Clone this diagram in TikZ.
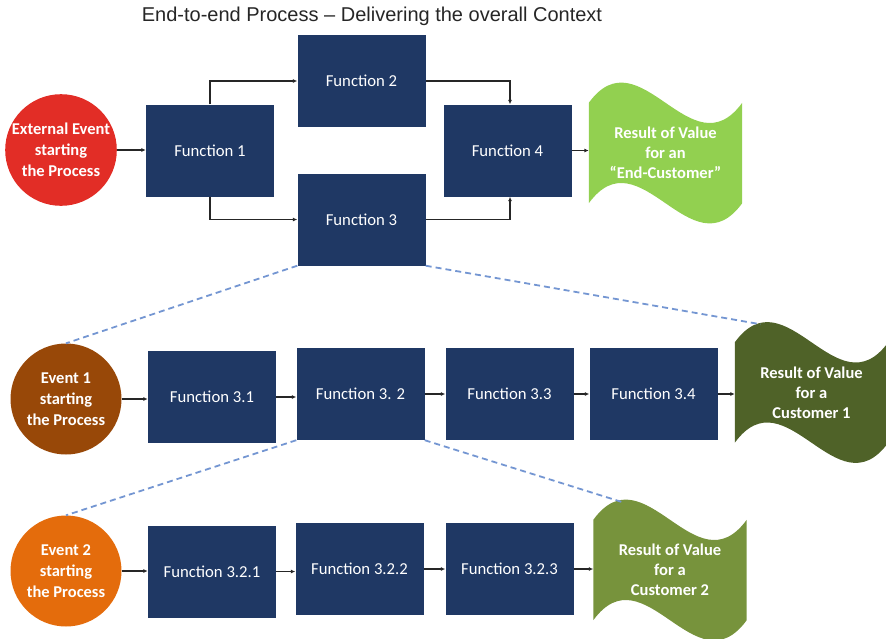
\documentclass[tikz,border=0pt]{standalone}
\usepackage{fontspec}
\setmainfont{Carlito}
\newfontfamily\titlefont{Liberation Sans}
\usetikzlibrary{arrows.meta,calc,backgrounds}

\definecolor{boxnavy}{RGB}{31,56,100}
\definecolor{evred}{RGB}{226,45,38}
\definecolor{evbrown}{RGB}{152,72,8}
\definecolor{evorange}{RGB}{228,108,12}
\definecolor{reslight}{RGB}{146,208,80}
\definecolor{resdark}{RGB}{79,98,40}
\definecolor{resmid}{RGB}{119,147,60}
\definecolor{zoomblue}{RGB}{116,150,210}

\tikzset{
  fbox/.style={rectangle, fill=boxnavy, text=white, minimum width=128pt,
    minimum height=92pt, inner sep=0pt, align=center,
    font=\fontsize{16.7}{20}\selectfont},
  event/.style={circle, text=white, minimum size=111pt, inner sep=0pt,
    align=center, font=\bfseries\fontsize{16.5}{21}\selectfont},
  result/.style={rectangle, text=white, minimum width=153pt,
    minimum height=100pt, inner sep=0pt, align=center,
    font=\bfseries\fontsize{16.5}{20}\selectfont},
  flow/.style={draw=black!85, line width=1.1pt,
    -{Latex[length=4.5pt,width=4pt]}},
  zoomline/.style={draw=zoomblue, line width=1.8pt, dash pattern=on 6pt off 4pt},
}

\begin{document}
\begin{tikzpicture}[x=1pt,y=-1pt]
\useasboundingbox (0,0) rectangle (886,638);

% title
\node[font=\titlefont\fontsize{20}{22}\selectfont, text=black!85] (title)
  at (372,16) {End-to-end Process – Delivering the overall Context};

% top level process
\node[event, fill=evred] (ev0) at (61,150) {External Event\\starting\\the Process};
\node[fbox] (f1) at (210,150.5) {Function 1};
\node[fbox] (f2) at (361.5,81) {Function 2};
\node[fbox] (f3) at (361.5,219.5) {Function 3};
\node[fbox] (f4) at (507.5,150.5) {Function 4};
\node[result] (w1) at (665.5,153) {Result of Value\\for an\\“End-Customer”};

% sub-process of Function 3
\node[event, fill=evbrown] (ev1) at (66,399) {Event 1\\starting\\the Process};
\node[fbox] (f31) at (212,397) {Function 3.1};
\node[fbox] (f32) at (360.5,394) {Function 3. 2};
\node[fbox] (f33) at (509.5,394) {Function 3.3};
\node[fbox] (f34) at (653.5,394) {Function 3.4};
\node[result] (w3) at (811.5,392.5) {Result of Value\\for a\\Customer 1};

% sub-process of Function 3.2
\node[event, fill=evorange] (ev2) at (66,571) {Event 2\\starting\\the Process};
\node[fbox] (f321) at (212,571.5) {Function 3.2.1};
\node[fbox] (f322) at (359.5,569) {Function 3.2.2};
\node[fbox] (f323) at (509.5,569) {Function 3.2.3};
\node[result] (w2) at (670,570) {Result of Value\\for a\\Customer 2};

% wave shaped result banners
\begin{scope}[on background layer]
  \foreach \w/\c in {w1/reslight, w3/resdark, w2/resmid} {
    \fill[\c] (\w.north west)
      .. controls ($(\w.north west)!1/3!(\w.north east)+(0,-70)$)
             and ($(\w.north west)!2/3!(\w.north east)+(0,70)$) .. (\w.north east)
      -- (\w.south east)
      .. controls ($(\w.south west)!2/3!(\w.south east)+(0,70)$)
             and ($(\w.south west)!1/3!(\w.south east)+(0,-70)$) .. (\w.south west)
      -- cycle;
  }
\end{scope}

% peaks of the banners, where the zoom lines end
\coordinate (w3peak) at ($(w3.north west)+(26,-18)$);
\coordinate (w2peak) at ($(w2.north west)+(28,-18)$);

% top level flow
\draw[flow] (ev0.east) -- (ev0.east -| f1.west);
\draw[flow] (f1.north) |- (f2.west);
\draw[flow] (f1.south) |- (f3.west);
\draw[flow] (f2.east) -| ($(f4.north)+(2.5,0)$);
\draw[flow] (f3.east) -| ($(f4.south)+(2.5,0)$);
\draw[flow] (f4.east) -- (f4.east -| w1.west);

% Function 3 flow
\draw[flow] (ev1.east) -- (ev1.east -| f31.west);
\draw[flow] (f31.east) -- (f31.east -| f32.west);
\draw[flow] (f32.east) -- (f32.east -| f33.west);
\draw[flow] (f33.east) -- (f33.east -| f34.west);
\draw[flow] (f34.east) -- (f34.east -| w3.west);

% Function 3.2 flow
\draw[flow] (ev2.east) -- (ev2.east -| f321.west);
\draw[flow] (f321.east) -- (f321.east -| f322.west);
\draw[flow] (f322.east) -- (f322.east -| f323.west);
\draw[flow] (f323.east) -- (f323.east -| w2.west);

% zoom lines
\draw[zoomline] (f3.south west) -- (ev1.north);
\draw[zoomline] (f3.south east) -- (w3peak);
\draw[zoomline] (f32.south west) -- (ev2.north);
\draw[zoomline] (f32.south east) -- (w2peak);
\end{tikzpicture}
\end{document}
